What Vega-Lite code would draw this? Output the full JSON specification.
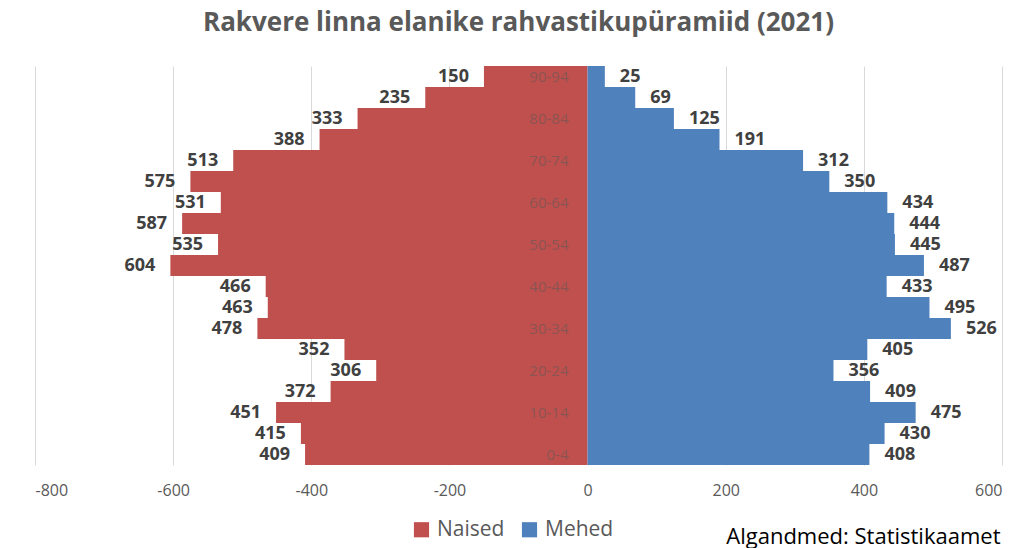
{
  "$schema": "https://vega.github.io/schema/vega-lite/v6.json",
  "width": 967,
  "height": 399,
  "autosize": "none",
  "padding": {"left": 35, "top": 66, "right": 19, "bottom": 83},
  "background": "white",
  "view": {"stroke": null},
  "title": {
    "text": "Rakvere linna elanike rahvastikupüramiid (2021)",
    "font": "Open Sans",
    "fontSize": 26,
    "fontWeight": "bold",
    "color": "#595959",
    "anchor": "middle",
    "offset": 30
  },
  "data": {
    "values": [
      {"age": "0-4", "sex": "Naised", "count": 409},
      {"age": "5-9", "sex": "Naised", "count": 415},
      {"age": "10-14", "sex": "Naised", "count": 451},
      {"age": "15-19", "sex": "Naised", "count": 372},
      {"age": "20-24", "sex": "Naised", "count": 306},
      {"age": "25-29", "sex": "Naised", "count": 352},
      {"age": "30-34", "sex": "Naised", "count": 478},
      {"age": "35-39", "sex": "Naised", "count": 463},
      {"age": "40-44", "sex": "Naised", "count": 466},
      {"age": "45-49", "sex": "Naised", "count": 604},
      {"age": "50-54", "sex": "Naised", "count": 535},
      {"age": "55-59", "sex": "Naised", "count": 587},
      {"age": "60-64", "sex": "Naised", "count": 531},
      {"age": "65-69", "sex": "Naised", "count": 575},
      {"age": "70-74", "sex": "Naised", "count": 513},
      {"age": "75-79", "sex": "Naised", "count": 388},
      {"age": "80-84", "sex": "Naised", "count": 333},
      {"age": "85-89", "sex": "Naised", "count": 235},
      {"age": "90-94", "sex": "Naised", "count": 150},
      {"age": "0-4", "sex": "Mehed", "count": 408},
      {"age": "5-9", "sex": "Mehed", "count": 430},
      {"age": "10-14", "sex": "Mehed", "count": 475},
      {"age": "15-19", "sex": "Mehed", "count": 409},
      {"age": "20-24", "sex": "Mehed", "count": 356},
      {"age": "25-29", "sex": "Mehed", "count": 405},
      {"age": "30-34", "sex": "Mehed", "count": 526},
      {"age": "35-39", "sex": "Mehed", "count": 495},
      {"age": "40-44", "sex": "Mehed", "count": 433},
      {"age": "45-49", "sex": "Mehed", "count": 487},
      {"age": "50-54", "sex": "Mehed", "count": 445},
      {"age": "55-59", "sex": "Mehed", "count": 444},
      {"age": "60-64", "sex": "Mehed", "count": 434},
      {"age": "65-69", "sex": "Mehed", "count": 350},
      {"age": "70-74", "sex": "Mehed", "count": 312},
      {"age": "75-79", "sex": "Mehed", "count": 191},
      {"age": "80-84", "sex": "Mehed", "count": 125},
      {"age": "85-89", "sex": "Mehed", "count": 69},
      {"age": "90-94", "sex": "Mehed", "count": 25}
    ]
  },
  "transform": [
    {"calculate": "datum.sex === 'Naised' ? -datum.count : datum.count", "as": "pos"}
  ],
  "encoding": {
    "y": {
      "field": "age",
      "type": "nominal",
      "sort": ["90-94","85-89","80-84","75-79","70-74","65-69","60-64","55-59","50-54","45-49","40-44","35-39","30-34","25-29","20-24","15-19","10-14","5-9","0-4"],
      "scale": {"paddingInner": 0, "paddingOuter": 0},
      "axis": {
        "title": null,
        "domain": false,
        "ticks": false,
        "tickSize": 0,
        "labelPadding": -533,
        "labelAlign": "right",
        "labelFont": "Open Sans",
        "labelFontSize": 15,
        "labelColor": "#595959",
        "labelOpacity": 0.55,
        "zindex": 2,
        "labelExpr": "parseInt(split(datum.value, '-')[0]) % 10 == 0 ? datum.value : ''"
      }
    }
  },
  "layer": [
    {
      "mark": {"type": "bar", "strokeWidth": 0},
      "encoding": {
        "x": {
          "field": "pos",
          "type": "quantitative",
          "scale": {"domain": [-800, 600], "nice": false},
          "axis": {
            "values": [-800, -600, -400, -200, 0, 200, 400, 600],
            "labelExpr": "'' + datum.value",
            "domain": false,
            "ticks": false,
            "grid": true,
            "gridColor": "#d9d9d9",
            "gridWidth": 1,
            "labelFont": "Open Sans",
            "labelFontSize": 16,
            "labelColor": "#595959",
            "labelPadding": 17,
            "title": "Algandmed: Statistikaamet",
            "titleFont": "Open Sans",
            "titleFontSize": 22,
            "titleFontWeight": "normal",
            "titleColor": "#000000",
            "titleAnchor": "end",
            "titleAlign": "right",
            "titleBaseline": "alphabetic",
            "titleX": 965,
            "titleY": 78
          }
        },
        "color": {
          "field": "sex",
          "type": "nominal",
          "scale": {"domain": ["Naised", "Mehed"], "range": ["#C0504D", "#4F81BD"]},
          "legend": {
            "title": null,
            "orient": "none",
            "direction": "horizontal",
            "legendX": 376,
            "legendY": 453,
            "symbolType": "square",
            "symbolSize": 230,
            "symbolStrokeWidth": 0,
            "labelFont": "Open Sans",
            "labelFontSize": 21,
            "labelColor": "#595959",
            "columnPadding": 14,
            "labelOffset": 5
          }
        }
      }
    },
    {
      "mark": {"type": "rule", "color": "#e8e8f0", "strokeWidth": 1.5},
      "encoding": {"x": {"datum": 0, "type": "quantitative"}}
    },
    {
      "transform": [{"filter": "datum.sex === 'Naised'"}],
      "mark": {"type": "text", "align": "right", "baseline": "middle", "dx": -15, "font": "Open Sans", "fontWeight": "bold", "fontSize": 18, "color": "#404040"},
      "encoding": {
        "x": {"field": "pos", "type": "quantitative"},
        "text": {"field": "count", "type": "quantitative"}
      }
    },
    {
      "transform": [{"filter": "datum.sex === 'Mehed'"}],
      "mark": {"type": "text", "align": "left", "baseline": "middle", "dx": 15, "font": "Open Sans", "fontWeight": "bold", "fontSize": 18, "color": "#404040"},
      "encoding": {
        "x": {"field": "pos", "type": "quantitative"},
        "text": {"field": "count", "type": "quantitative"}
      }
    }
  ]
}
